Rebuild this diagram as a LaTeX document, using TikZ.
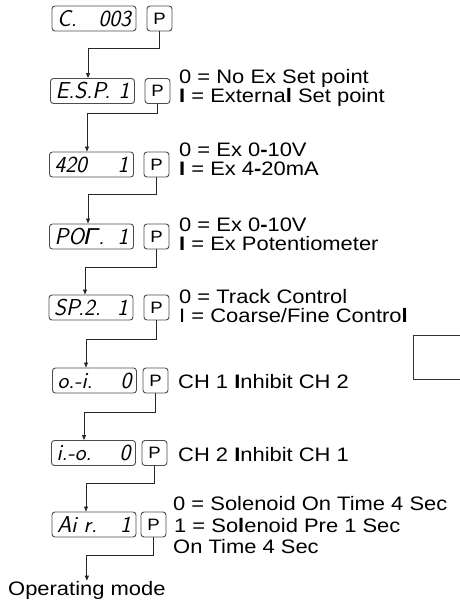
\documentclass[tikz,border=0pt]{standalone}
\usepackage{fontspec}
\newfontfamily\lab[FakeStretch=1.125]{Liberation Sans}
\usetikzlibrary{arrows.meta}
\newcommand{\dsp}[2]{\makebox[74pt]{#1\hfill #2}}
\tikzset{
  disp/.style={draw=black!70, line width=0.9pt, rounded corners=3pt,
    minimum height=25pt, inner xsep=5pt, inner ysep=0pt,
    font=\fontsize{23}{23}\selectfont\sffamily\itshape},
  pkey/.style={draw=black!70, line width=0.9pt, rounded corners=3pt,
    minimum width=25pt, minimum height=25pt, inner sep=0pt,
    font=\fontsize{16.5}{16.5}\lab},
  lbl/.style={anchor=base west, inner sep=0pt, font=\fontsize{19.5}{19.5}\lab},
  conn/.style={draw=black!85, line width=0.8pt, -{Triangle[length=5pt,width=4pt]}},
}
\begin{document}
\begin{tikzpicture}[x=1pt,y=-1pt]
\useasboundingbox (0,0) rectangle (459,603);
% displays and P keys
\node[disp] (d1) at (94,18.5) {\dsp{C.}{003}};
\node[pkey] (p1) at (159.5,18.5) {P};
\node[disp] (d2) at (92.5,91) {\dsp{E.S.P.}{1}};
\node[pkey] (p2) at (157.5,91) {P};
\node[disp] (d3) at (91.5,164.5) {\dsp{420}{1}};
\node[pkey] (p3) at (156.5,164.5) {P};
\node[disp] (d4) at (91.5,236.5) {\dsp{PO{\lab\itshape Г}.}{1}};
\node[pkey] (p4) at (156.5,236.5) {P};
\node[disp] (d5) at (91,307.5) {\dsp{SP.2.}{1}};
\node[pkey] (p5) at (156.5,307.5) {P};
\node[disp] (d6) at (94.5,380.5) {\dsp{o.-i.}{0}};
\node[pkey] (p6) at (155.5,380.5) {P};
\node[disp] (d7) at (93.5,453) {\dsp{i.-o.}{0}};
\node[pkey] (p7) at (154.5,453) {P};
\node[disp] (d8) at (94,524.5) {\dsp{Ai r.}{1}};
\node[pkey] (p8) at (153.5,524.5) {P};
\node[lbl] (op) at (8,595) {Operating mode};
% labels
\node[lbl] (t2a) at (179,83.5) {0 = No Ex Set point};
\node[lbl] (t2b) at (179,102.5) {\textbf{I} = Externa\textbf{l} Set point};
\node[lbl] (t3a) at (179,156) {0 = Ex 0\textbf{-}10V};
\node[lbl] (t3b) at (179,175) {\textbf{I} = Ex 4\textbf{-}20mA};
\node[lbl] (t4a) at (179,231) {0 = Ex 0\textbf{-}10V};
\node[lbl] (t4b) at (179,250) {\textbf{I} = Ex Potentiometer};
\node[lbl] (t5a) at (179,303) {0 = Track Control};
\node[lbl] (t5b) at (179,322) {I = Coarse/Fine Contro\textbf{l}};
\node[lbl] (t6) at (178,388) {CH 1 \textbf{I}nhibit CH 2};
\node[lbl] (t7) at (178,461) {CH 2 \textbf{I}nhibit CH 1};
\node[lbl] (t8a) at (173,510) {0 = Solenoid On Time 4 Sec};
\node[lbl] (t8b) at (174,532) {1 = So\textbf{l}enoid Pre 1 Sec};
\node[lbl] (t8c) at (173,553) {On Time 4 Sec};
% connectors
\draw[conn] (p1.south) -- ++(0,17) -| ([xshift=-4.5pt]d2.north);
\draw[conn] (p2.south) -- ++(0,9) -| ([xshift=-4.5pt]d3.north);
\draw[conn] (p3.south) -- ++(0,17) -| ([xshift=-3.5pt]d4.north);
\draw[conn] (p4.south) -- ++(0,18) -| ([xshift=-6pt]d5.north);
\draw[conn] (p5.south) -- ++(0,19) -| ([xshift=-8.5pt]d6.north);
\draw[conn] (p6.south) -- ++(0,19) -| ([xshift=-9.5pt]d7.north);
\draw[conn] (p7.south) -- ++(0,17) -| ([xshift=-8pt]d8.north);
\draw[conn] (p8.south) -- ++(0,18) -| (op.north);
% partial frame at right edge
\draw[draw=black!80, line width=0.9pt] (460,335) -- (413,335) -- (413,379) -- (460,379);
\end{tikzpicture}
\end{document}
